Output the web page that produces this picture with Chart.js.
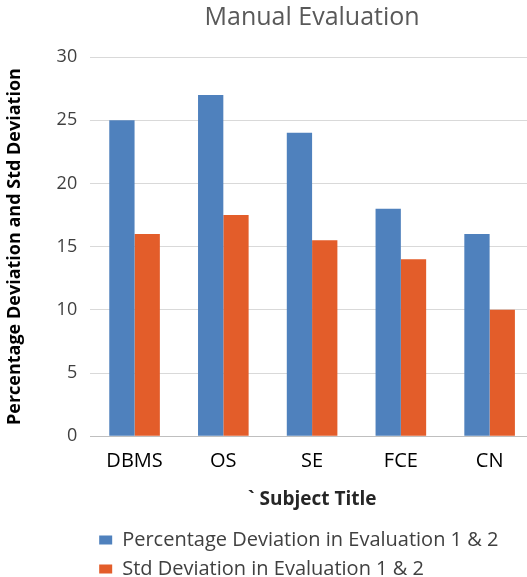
<!DOCTYPE html>
<html>
<head>
<meta charset="utf-8">
<script src="https://cdn.jsdelivr.net/npm/chart.js@4"></script>
<style>
  html, body { margin: 0; padding: 0; background: #fff; overflow: hidden; }
  #wrap { width: 536px; height: 577px; }
</style>
</head>
<body>
<div id="wrap"><canvas id="chartEval"></canvas></div>
<script>
var subjects = ['DBMS', 'OS', 'SE', 'FCE', 'CN'];
var percentDev = [25, 27, 24, 18, 16];
var stdDev = [16, 17.5, 15.5, 14, 10];
var yTicks = [0, 5, 10, 15, 20, 25, 30];

var ctx = document.getElementById('chartEval').getContext('2d');
var myChart = new Chart(ctx, {
    type: 'bar',
    data: {
        labels: subjects,
        datasets: [{
            label: 'Percentage Deviation in Evaluation 1 & 2',
            data: percentDev,
            backgroundColor: '#4f81bd',
            categoryPercentage: 0.57,
            barPercentage: 1.0
        }, {
            label: 'Std Deviation in Evaluation 1 & 2',
            data: stdDev,
            backgroundColor: '#e35d2a',
            categoryPercentage: 0.57,
            barPercentage: 1.0
        }]
    },
    options: {
        responsive: true,
        maintainAspectRatio: false,
        animation: false,
        layout: { padding: { left: 4, right: 2, top: 2, bottom: -12 } },
        plugins: {
            title: {
                display: true,
                text: 'Manual Evaluation',
                fullSize: false,
                color: '#595959',
                font: { family: 'Open Sans', size: 25, weight: 'normal' },
                padding: { top: 1, bottom: 24 }
            },
            legend: {
                position: 'bottom',
                align: 'start',
                fullSize: false,
                labels: {
                    boxWidth: 13,
                    boxHeight: 9,
                    color: '#404040',
                    padding: 9,
                    font: { family: 'Open Sans', size: 20 }
                }
            },
            tooltip: { enabled: false }
        },
        scales: {
            x: {
                grid: { display: false },
                border: { color: '#bfbfbf', width: 1 },
                ticks: {
                    color: '#000',
                    padding: 5,
                    font: { family: 'Open Sans', size: 20 }
                },
                title: {
                    display: true,
                    text: '` Subject Title',
                    color: '#262626',
                    font: { family: 'Open Sans', size: 19, weight: 'bold' },
                    padding: { top: 10, bottom: 10 }
                }
            },
            y: {
                min: 0,
                max: 30,
                afterBuildTicks: function (axis) {
                    axis.ticks = yTicks.map(function (v) { return { value: v }; });
                },
                grid: { color: '#d9d9d9', drawTicks: false },
                border: { display: false },
                ticks: {
                    color: '#404040',
                    padding: 13,
                    font: { family: 'Open Sans', size: 18 }
                },
                title: {
                    display: true,
                    text: 'Percentage Deviation and Std Deviation',
                    color: '#000',
                    font: { family: 'Open Sans', size: 18, weight: 'bold' },
                    padding: { top: 0, bottom: 18 }
                }
            }
        }
    }
});
</script>
</body>
</html>
